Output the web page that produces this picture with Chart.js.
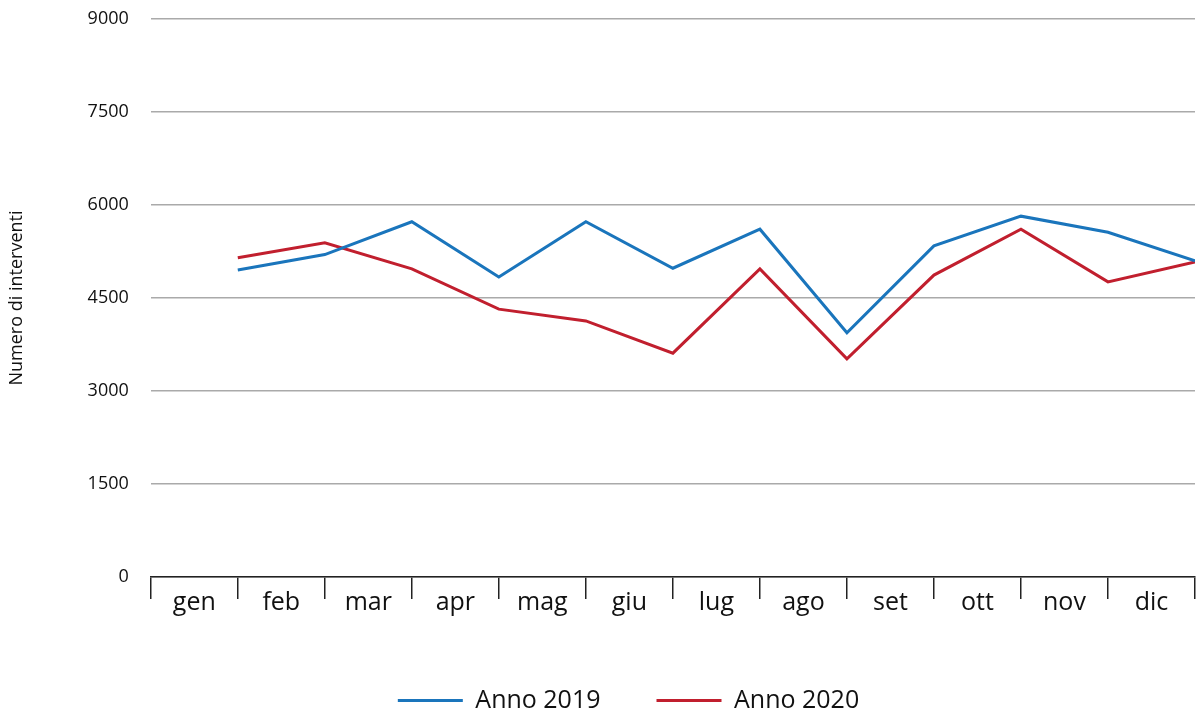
<!DOCTYPE html>
<html>
<head>
<meta charset="utf-8">
<script src="https://cdn.jsdelivr.net/npm/chart.js@4"></script>
<style>
  html, body { margin: 0; padding: 0; background: #fff; }
  #wrap { width: 1196px; height: 715px; position: relative; }
</style>
</head>
<body>
<div id="wrap"><canvas id="chart"></canvas></div>
<script>
// months (labels sit between the tick lines)
const months = ["gen", "feb", "mar", "apr", "mag", "giu", "lug", "ago", "set", "ott", "nov", "dic"];

// values
const anno2019 = [4950, 5200, 5730, 4840, 5730, 4980, 5610, 3940, 5340, 5820, 5560, 5100];
const anno2020 = [5150, 5390, 4970, 4320, 4130, 3610, 4970, 3520, 4870, 5610, 4760, 5080];

const yTicks = [0, 1500, 3000, 4500, 6000, 7500, 9000];

const FONT = "'Open Sans', sans-serif";
const BLUE = "#1a75bc";
const RED = "#c11f2e";

// points are drawn on the boundary lines, right of each month
function toPoints(values) {
    return values.map((v, i) => ({ x: i + 0.5, y: v }));
}

// nudge the legend a bit to the right, like the original
const legendShift = {
    id: "legendShift",
    afterLayout(chart) {
        if (!chart.legend) return;
        chart.legend.left += 29;
        chart.legend.right += 29;
    }
};

const ctx = document.getElementById("chart").getContext("2d");

new Chart(ctx, {
    type: "line",
    data: {
        labels: months,
        datasets: [
            {
                label: "Anno 2019",
                data: toPoints(anno2019),
                xAxisID: "xv",
                borderColor: BLUE,
                backgroundColor: BLUE,
                borderWidth: 3,
                pointRadius: 0,
                tension: 0
            },
            {
                label: "Anno 2020",
                data: toPoints(anno2020),
                xAxisID: "xv",
                borderColor: RED,
                backgroundColor: RED,
                borderWidth: 3,
                pointRadius: 0,
                tension: 0
            }
        ]
    },
    options: {
        responsive: true,
        maintainAspectRatio: false,
        animation: false,
        layout: {
            padding: { top: 19, right: 1, left: 4, bottom: 0 }
        },
        plugins: {
            legend: {
                position: "bottom",
                maxHeight: 83,
                labels: {
                    boxWidth: 65,
                    boxHeight: 0,
                    padding: 56,
                    color: "#111",
                    font: { family: FONT, size: 25 }
                }
            },
            tooltip: { enabled: false }
        },
        scales: {
            x: {
                type: "category",
                offset: true,
                grid: {
                    offset: true,
                    drawOnChartArea: false,
                    drawTicks: true,
                    tickLength: 22,
                    color: "#222",
                    lineWidth: 1.5
                },
                border: { display: true, color: "#222", width: 1.5 },
                ticks: {
                    color: "#111",
                    padding: 4,
                    crossAlign: "center",
                    font: { family: FONT, size: 25, lineHeight: 1.0 }
                }
            },
            xv: {
                type: "linear",
                display: false,
                min: -0.5,
                max: 11.5
            },
            y: {
                min: 0,
                max: 9000,
                afterBuildTicks: (scale) => {
                    scale.ticks = yTicks.map(v => ({ value: v }));
                },
                grid: {
                    color: "#aaa",
                    lineWidth: 1.5,
                    drawTicks: true,
                    tickLength: 22,
                    tickColor: "rgba(0,0,0,0)"
                },
                border: { display: false },
                ticks: {
                    color: "#111",
                    padding: 0,
                    font: { family: FONT, size: 18 },
                    callback: (v) => String(v)
                },
                title: {
                    display: true,
                    text: "Numero di interventi",
                    color: "#111",
                    padding: { top: 2, bottom: 60 },
                    font: { family: FONT, size: 18 }
                }
            }
        }
    },
    plugins: [legendShift]
});
</script>
</body>
</html>
